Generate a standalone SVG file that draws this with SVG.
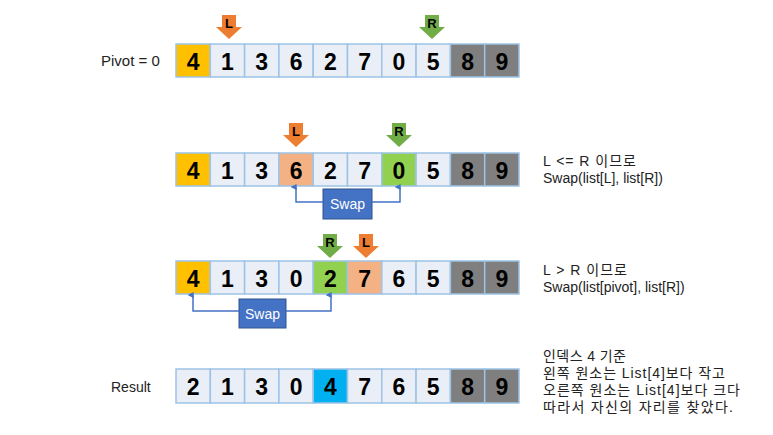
<svg xmlns="http://www.w3.org/2000/svg" width="773" height="435" viewBox="0 0 773 435">
<style>
.c{stroke:#9DC3E6;stroke-width:1.5}
.n{fill:#E9EEF7}
.p{fill:#FFC000}
.g{fill:#7F7F7F}
.s{fill:#F4B183}
.gr{fill:#92D050}
.b{fill:#00B0F0}
.d{font-family:"Liberation Sans","Noto Sans",sans-serif;font-weight:bold;font-size:23px;fill:#000;text-anchor:middle}
.lbl{font-family:"Liberation Sans","Noto Sans CJK KR",sans-serif;font-size:14px;fill:#222}
.al{font-family:"Liberation Sans",sans-serif;font-weight:bold;font-size:13px;fill:#000;text-anchor:middle}
.conn{fill:none;stroke:#4472C4;stroke-width:1.5}
.swap rect{fill:#4472C4;stroke:#2F528F;stroke-width:1}
.swap text{font-family:"Liberation Sans","Noto Sans",sans-serif;font-size:14px;fill:#fff;text-anchor:middle}
</style>
<defs>
<path id="arr" d="M-7,0 H7 V12 H13 L0,24 L-13,12 H-7 Z"/>
<marker id="m" viewBox="0 0 10 10" refX="5" refY="9" markerWidth="6" markerHeight="6" orient="auto-start-reverse" markerUnits="userSpaceOnUse">
<path d="M0,0 L10,0 L5,10 Z" fill="#4472C4" transform="rotate(180 5 5)"/>
</marker>
</defs>
<rect width="773" height="435" fill="#fff"/>

<text class="lbl" x="101" y="66" style="font-size:15px">Pivot = 0</text>
<g id="row1">
<rect class="c p" x="176" y="44" width="34.3" height="33"/><text class="d" x="193.15" y="69.5">4</text>
<rect class="c n" x="210.3" y="44" width="34.3" height="33"/><text class="d" x="227.45" y="69.5">1</text>
<rect class="c n" x="244.6" y="44" width="34.3" height="33"/><text class="d" x="261.75" y="69.5">3</text>
<rect class="c n" x="278.9" y="44" width="34.3" height="33"/><text class="d" x="296.05" y="69.5">6</text>
<rect class="c n" x="313.2" y="44" width="34.3" height="33"/><text class="d" x="330.35" y="69.5">2</text>
<rect class="c n" x="347.5" y="44" width="34.3" height="33"/><text class="d" x="364.65" y="69.5">7</text>
<rect class="c n" x="381.8" y="44" width="34.3" height="33"/><text class="d" x="398.95" y="69.5">0</text>
<rect class="c n" x="416.1" y="44" width="34.3" height="33"/><text class="d" x="433.25" y="69.5">5</text>
<rect class="c g" x="450.4" y="44" width="34.3" height="33"/><text class="d" x="467.55" y="69.5">8</text>
<rect class="c g" x="484.7" y="44" width="34.3" height="33"/><text class="d" x="501.85" y="69.5">9</text>
</g>
<g id="row1-L"><use href="#arr" x="229" y="15" fill="#ED7D31"/><text class="al" x="229" y="28">L</text></g>
<g id="row1-R"><use href="#arr" x="432" y="15" fill="#70AD47"/><text class="al" x="432" y="28">R</text></g>

<g id="row2">
<rect class="c p" x="176" y="153" width="34.3" height="33"/><text class="d" x="193.15" y="178.5">4</text>
<rect class="c n" x="210.3" y="153" width="34.3" height="33"/><text class="d" x="227.45" y="178.5">1</text>
<rect class="c n" x="244.6" y="153" width="34.3" height="33"/><text class="d" x="261.75" y="178.5">3</text>
<rect class="c s" x="278.9" y="153" width="34.3" height="33"/><text class="d" x="296.05" y="178.5">6</text>
<rect class="c n" x="313.2" y="153" width="34.3" height="33"/><text class="d" x="330.35" y="178.5">2</text>
<rect class="c n" x="347.5" y="153" width="34.3" height="33"/><text class="d" x="364.65" y="178.5">7</text>
<rect class="c gr" x="381.8" y="153" width="34.3" height="33"/><text class="d" x="398.95" y="178.5">0</text>
<rect class="c n" x="416.1" y="153" width="34.3" height="33"/><text class="d" x="433.25" y="178.5">5</text>
<rect class="c g" x="450.4" y="153" width="34.3" height="33"/><text class="d" x="467.55" y="178.5">8</text>
<rect class="c g" x="484.7" y="153" width="34.3" height="33"/><text class="d" x="501.85" y="178.5">9</text>
</g>
<g id="row2-L"><use href="#arr" x="296" y="123" fill="#ED7D31"/><text class="al" x="296" y="136">L</text></g>
<g id="row2-R"><use href="#arr" x="399" y="123" fill="#70AD47"/><text class="al" x="399" y="136">R</text></g>
<g id="swap1" class="swap"><rect x="323" y="189" width="49" height="30"/><text x="347.5" y="209">Swap</text></g>

<g id="row3">
<rect class="c p" x="176" y="261" width="34.3" height="33"/><text class="d" x="193.15" y="286.5">4</text>
<rect class="c n" x="210.3" y="261" width="34.3" height="33"/><text class="d" x="227.45" y="286.5">1</text>
<rect class="c n" x="244.6" y="261" width="34.3" height="33"/><text class="d" x="261.75" y="286.5">3</text>
<rect class="c n" x="278.9" y="261" width="34.3" height="33"/><text class="d" x="296.05" y="286.5">0</text>
<rect class="c gr" x="313.2" y="261" width="34.3" height="33"/><text class="d" x="330.35" y="286.5">2</text>
<rect class="c s" x="347.5" y="261" width="34.3" height="33"/><text class="d" x="364.65" y="286.5">7</text>
<rect class="c n" x="381.8" y="261" width="34.3" height="33"/><text class="d" x="398.95" y="286.5">6</text>
<rect class="c n" x="416.1" y="261" width="34.3" height="33"/><text class="d" x="433.25" y="286.5">5</text>
<rect class="c g" x="450.4" y="261" width="34.3" height="33"/><text class="d" x="467.55" y="286.5">8</text>
<rect class="c g" x="484.7" y="261" width="34.3" height="33"/><text class="d" x="501.85" y="286.5">9</text>
</g>
<g id="row3-R"><use href="#arr" x="330" y="234" fill="#70AD47"/><text class="al" x="330" y="247">R</text></g>
<g id="row3-L"><use href="#arr" x="366" y="234" fill="#ED7D31"/><text class="al" x="366" y="247">L</text></g>
<g id="swap2" class="swap"><rect x="239" y="299" width="47" height="29"/><text x="262.5" y="318.5">Swap</text></g>

<text class="lbl" x="111" y="392">Result</text>
<g id="row4">
<rect class="c n" x="176" y="369" width="34.3" height="34"/><text class="d" x="193.15" y="395">2</text>
<rect class="c n" x="210.3" y="369" width="34.3" height="34"/><text class="d" x="227.45" y="395">1</text>
<rect class="c n" x="244.6" y="369" width="34.3" height="34"/><text class="d" x="261.75" y="395">3</text>
<rect class="c n" x="278.9" y="369" width="34.3" height="34"/><text class="d" x="296.05" y="395">0</text>
<rect class="c b" x="313.2" y="369" width="34.3" height="34"/><text class="d" x="330.35" y="395">4</text>
<rect class="c n" x="347.5" y="369" width="34.3" height="34"/><text class="d" x="364.65" y="395">7</text>
<rect class="c n" x="381.8" y="369" width="34.3" height="34"/><text class="d" x="398.95" y="395">6</text>
<rect class="c n" x="416.1" y="369" width="34.3" height="34"/><text class="d" x="433.25" y="395">5</text>
<rect class="c g" x="450.4" y="369" width="34.3" height="34"/><text class="d" x="467.55" y="395">8</text>
<rect class="c g" x="484.7" y="369" width="34.3" height="34"/><text class="d" x="501.85" y="395">9</text>
</g>

<g id="connectors">
<path class="conn" d="M323,202 H296 V187" marker-end="url(#m)"/>
<path class="conn" d="M372,202 H400 V187" marker-end="url(#m)"/>
<path class="conn" d="M239,311 H193 V295" marker-end="url(#m)"/>
<path class="conn" d="M286,311 H331 V295" marker-end="url(#m)"/>
</g>

<g id="note1"><text class="lbl" x="543" y="166" textLength="93" lengthAdjust="spacing">L &lt;= R 이므로</text><text class="lbl" x="543" y="183">Swap(list[L], list[R])</text></g>
<g id="note2"><text class="lbl" x="543" y="275" textLength="84" lengthAdjust="spacing">L &gt; R 이므로</text><text class="lbl" x="543" y="292">Swap(list[pivot], list[R])</text></g>
<g id="note3">
<text class="lbl" x="543" y="361" textLength="83" lengthAdjust="spacing">인덱스 4 기준</text>
<text class="lbl" x="543" y="378" textLength="182" lengthAdjust="spacing">왼쪽 원소는 List[4]보다 작고</text>
<text class="lbl" x="543" y="395" textLength="197" lengthAdjust="spacing">오른쪽 원소는 List[4]보다 크다</text>
<text class="lbl" x="543" y="412" textLength="190" lengthAdjust="spacing">따라서 자신의 자리를 찾았다.</text>
</g>
</svg>
